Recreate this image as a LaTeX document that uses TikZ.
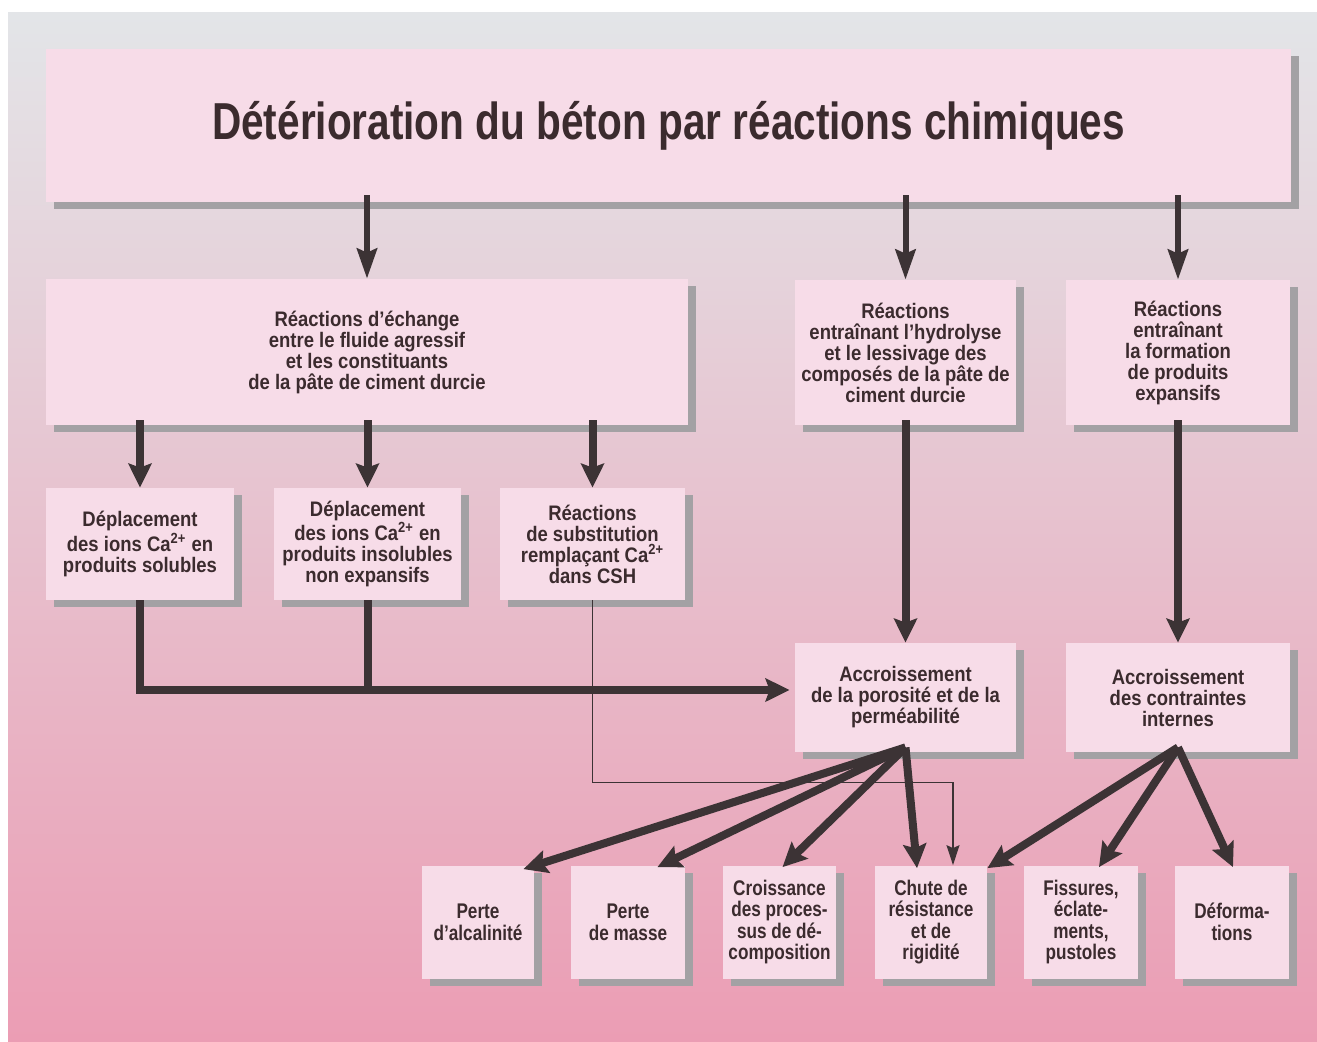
\documentclass[tikz,border=0pt]{standalone}
\usepackage{fontspec}
\setmainfont{Liberation Sans}
\newfontfamily\narrowfont{Liberation Sans}[FakeStretch=0.88]
\newfontfamily\tightfont{Liberation Sans}[FakeStretch=0.81]
\newfontfamily\titlefont{Liberation Sans}[FakeStretch=0.78]
\usetikzlibrary{arrows.meta,shadows}
\definecolor{bgtop}{HTML}{E3E5E8}
\definecolor{bgmid}{HTML}{E8C9D3}
\definecolor{bgbot}{HTML}{EB9DB4}
\definecolor{boxfill}{HTML}{F7DCE8}
\definecolor{shgray}{HTML}{A3A1A4}
\definecolor{txt}{HTML}{3B2B2E}
\definecolor{arrowcol}{HTML}{3C3335}
\def\boxfont{\narrowfont\bfseries\fontsize{10.5}{10.5}\selectfont}
\def\lowfont{\tightfont\bfseries\fontsize{10.6}{10.8}\selectfont}

\begin{document}
\begin{tikzpicture}[x=0.5pt,y=-0.5pt,every node/.style={align=center},
  box/.style={fill=boxfill, text=txt, inner sep=0pt, font=\boxfont,
    general shadow={shadow xshift=4pt, shadow yshift=-3.5pt, fill=shgray}},
  lowbox/.style={box, font=\lowfont, minimum width=56.5pt, minimum height=56.5pt},
  arr/.style={draw=arrowcol, line width=4pt, -{Stealth[length=12pt,width=11.5pt,inset=2pt]}},
  toparr/.style={arr, line width=3pt, -{Stealth[length=15pt,width=10pt,inset=2pt]}},
  thinarr/.style={draw=arrowcol, line width=0.6pt, -{Stealth[length=10pt,width=6.5pt,inset=1.5pt]}}]

\useasboundingbox (0,0) rectangle (1317,1041);
\fill[white] (0,0) rectangle (1317,1041);
\shade[top color=bgtop, middle color=bgmid, bottom color=bgbot] (8,12) rectangle (1317,1041);

% level 0
\node[box, minimum width=622.5pt, minimum height=76.5pt,
      font=\titlefont\bfseries\fontsize{26}{28}\selectfont] (title) at (668.5,125.5)
      {\raisebox{-2pt}{Détérioration du béton par réactions chimiques}};

% level 1
\node[box, minimum width=321pt, minimum height=73pt] (exch) at (367,352)
      {Réactions d’échange\\entre le fluide agressif\\et les constituants\\de la pâte de ciment durcie};
\node[box, minimum width=110.5pt, minimum height=72.5pt] (hydro) at (905.5,352.5)
      {Réactions\\entraînant l’hydrolyse\\et le lessivage des\\composés de la pâte de\\ciment durcie};
\node[box, minimum width=112pt, minimum height=72.5pt] (expa) at (1178,352.5)
      {Réactions\\entraînant\\la formation\\de produits\\expansifs};

% level 2
\node[box, minimum width=94pt, minimum height=56pt] (sol) at (140,544)
      {Déplacement\\des ions Ca\textsuperscript{2+} en\\produits solubles};
\node[box, minimum width=93.5pt, minimum height=56pt] (insol) at (367.5,544)
      {Déplacement\\des ions Ca\textsuperscript{2+} en\\produits insolubles\\non expansifs};
\node[box, minimum width=92.5pt, minimum height=56pt] (subst) at (592.5,544)
      {Réactions\\de substitution\\remplaçant Ca\textsuperscript{2+}\\dans CSH};

% level 3
\node[box, minimum width=110.5pt, minimum height=54.5pt] (poro) at (905.5,697.5)
      {Accroissement\\de la porosité et de la\\perméabilité};
\node[box, minimum width=112pt, minimum height=54.5pt] (contr) at (1178,697.5)
      {Accroissement\\des contraintes\\internes};

% level 4
\node[lowbox, minimum width=56pt] (alc) at (478,922) {Perte\\d’alcalinité};
\node[lowbox, minimum width=57pt] (masse) at (628,922) {Perte\\de masse};
\node[lowbox] (croiss) at (779.5,922) {Croissance\\des proces-\\sus de dé-\\composition};
\node[lowbox, minimum width=56pt] (chute) at (931,922) {Chute de\\résistance\\et de\\rigidité};
\node[lowbox, minimum width=57pt] (fiss) at (1081,922) {Fissures,\\éclate-\\ments,\\pustoles};
\node[lowbox, minimum width=57pt] (defo) at (1232,922) {Déforma-\\tions};

% arrows from the top
\foreach \n in {exch,hydro,expa}
  \draw[toparr, shorten <=-3.5pt] (title.south -| \n.north) -- (\n.north);
\foreach \n in {sol,insol,subst}
  \draw[arr, shorten <=-2.5pt] (exch.south -| \n.north) -- (\n.north);
\draw[arr, shorten <=-2.5pt] (hydro.south) -- (poro.north);
\draw[arr, shorten <=-2.5pt] (expa.south) -- (contr.north);

% collecting line to porosity
\coordinate (bus) at ([xshift=-2.5pt,yshift=3.75pt]poro.west);
\draw[arr] (sol.south) |- (bus);
\draw[draw=arrowcol, line width=4pt] (insol.south) -- (insol.south |- bus);

% thin line from substitution
\coordinate (thintip) at ([xshift=11pt]chute.north);
\draw[thinarr] (subst.south) -- ++(0,182) -| (thintip);

% fans
\coordinate (psrc) at ([yshift=2.5pt]poro.south);
\coordinate (csrc) at ([yshift=2.5pt]contr.south);
\draw[arr] (psrc) -- ([xshift=-5.5pt,yshift=-2pt]alc.north east);
\draw[arr] (psrc) -- ([xshift=-14pt,yshift=-1pt]masse.north east);
\draw[arr] (psrc) -- ([xshift=1.5pt,yshift=-1pt]croiss.north);
\draw[arr] (psrc) -- ([xshift=-7pt,yshift=-1.5pt]chute.north);
\draw[arr] (csrc) -- ([yshift=-1.5pt]chute.north east);
\draw[arr] (csrc) -- ([xshift=9pt,yshift=-1pt]fiss.north);
\draw[arr] (csrc) -- ([xshift=0.5pt,yshift=-1pt]defo.north);

\end{tikzpicture}
\end{document}
